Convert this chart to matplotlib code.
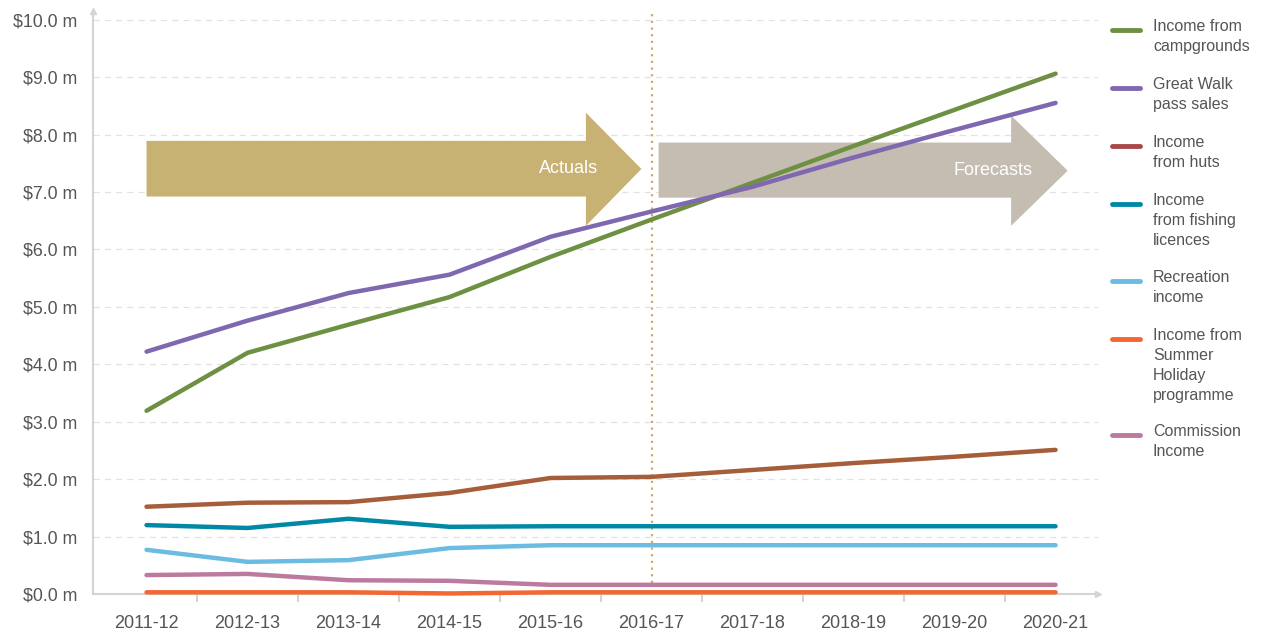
import matplotlib
matplotlib.use("Agg")
import matplotlib.pyplot as plt
from matplotlib.patches import Polygon
from matplotlib.lines import Line2D

plt.rcParams['font.family'] = ['Liberation Sans', 'DejaVu Sans']

years = ['2011-12', '2012-13', '2013-14', '2014-15', '2015-16',
         '2016-17', '2017-18', '2018-19', '2019-20', '2020-21']

# values in $ million
campgrounds = [3.19, 4.20, 4.69, 5.17, 5.87, 6.52, 7.16, 7.80, 8.43, 9.06]
great_walk = [4.22, 4.76, 5.24, 5.56, 6.22, 6.66, 7.09, 7.60, 8.08, 8.55]
huts = [1.52, 1.59, 1.60, 1.76, 2.02, 2.04, 2.16, 2.28, 2.39, 2.51]
fishing = [1.20, 1.15, 1.31, 1.17, 1.18, 1.18, 1.18, 1.18, 1.18, 1.18]
recreation = [0.77, 0.56, 0.59, 0.80, 0.85, 0.85, 0.85, 0.85, 0.85, 0.85]
summer = [0.03, 0.03, 0.03, 0.01, 0.03, 0.03, 0.03, 0.03, 0.03, 0.03]
commission = [0.33, 0.35, 0.24, 0.23, 0.16, 0.16, 0.16, 0.16, 0.16, 0.16]

series = [
    ("Income from\ncampgrounds", campgrounds, '#6e9043', '#6e9043'),
    ("Great Walk\npass sales", great_walk, '#7f68b0', '#7f68b0'),
    ("Income\nfrom huts", huts, '#a65d3a', '#a8484a'),
    ("Income\nfrom fishing\nlicences", fishing, '#0089a6', '#0089a6'),
    ("Recreation\nincome", recreation, '#6cbbe3', '#6cbbe3'),
    ("Income from\nSummer\nHoliday\nprogramme", summer, '#f36734', '#f36734'),
    ("Commission\nIncome", commission, '#bd7a9f', '#bd7a9f'),
]
draw_order = [commission, summer, recreation, fishing, huts, campgrounds, great_walk]

fig = plt.figure(figsize=(12.67, 6.30), dpi=100)
ax = fig.add_axes([0.0734, 0.0571, 0.7932, 0.9254])
x = list(range(len(years)))

ax.set_xlim(-0.53, 9.42)
ax.set_ylim(0, 10.15)

# grid
for v in range(1, 11):
    ax.axhline(v, color='#e2e2e2', lw=0.9, ls=(0, (5, 4)), zorder=0)

# arrows
act = Polygon([(0, 6.92), (4.35, 6.92), (4.35, 6.41), (4.9, 7.40),
               (4.35, 8.38), (4.35, 7.89), (0, 7.89)],
              closed=True, fc='#c8b273', ec='none', zorder=1)
ax.add_patch(act)
fc = Polygon([(5.07, 6.90), (8.56, 6.90), (8.56, 6.41), (9.12, 7.37),
              (8.56, 8.33), (8.56, 7.86), (5.07, 7.86)],
             closed=True, fc='#c5bcb2', ec='none', zorder=1)
ax.add_patch(fc)
ax.text(4.18, 7.40, "Actuals", color='white', fontsize=13, ha='center', va='center', zorder=2)
ax.text(8.38, 7.38, "Forecasts", color='white', fontsize=13, ha='center', va='center', zorder=2)

# dotted divider
ax.plot([5, 5], [0.2, 10.1], color='#c9ad6c', lw=1.6, ls=(0, (1, 2)), zorder=2)

colors = {id(s[1]): s[2] for s in series}
for vals in draw_order:
    ax.plot(x, vals, color=colors[id(vals)], lw=3.2, solid_capstyle='round',
            solid_joinstyle='round', zorder=3, clip_on=False)

# axes styling
for side in ['top', 'right']:
    ax.spines[side].set_visible(False)
for side in ['left', 'bottom']:
    ax.spines[side].set_color('#d4d4d4')
    ax.spines[side].set_linewidth(1.5)
ax.plot(1, 0, '>', color='#d4d4d4', ms=4, transform=ax.transAxes, clip_on=False)
ax.plot(0, 1, '^', color='#d4d4d4', ms=4, transform=ax.transAxes, clip_on=False)

ax.set_yticks(range(0, 11))
ax.set_yticklabels(["$%.1f m" % v for v in range(0, 11)])
ax.tick_params(axis='y', length=0, pad=11, labelsize=12.8, labelcolor='#555555')

ax.set_xticks(x)
ax.set_xticklabels(years)
ax.tick_params(axis='x', length=0, pad=15, labelsize=13, labelcolor='#555555')
ax.set_xticks([i + 0.5 for i in range(9)], minor=True)
ax.tick_params(axis='x', which='minor', length=6, width=1.5, color='#d4d4d4', direction='out')

# legend (manual)
W, H = 1267.0, 630.0
line_y = 30
for label, vals, lcol, legcol in series:
    fy = 1 - line_y / H
    fig.add_artist(Line2D([1112 / W, 1140 / W], [fy, fy], color=legcol, lw=3.5,
                          solid_capstyle='round', transform=fig.transFigure))
    fig.text(1153 / W, 1 - (line_y - 11) / H, label, fontsize=11.5, color='#555555',
             va='top', ha='left', linespacing=1.42)
    n = label.count('\n') + 1
    line_y += n * 19 + 20

fig.savefig('out.png', dpi=100)
